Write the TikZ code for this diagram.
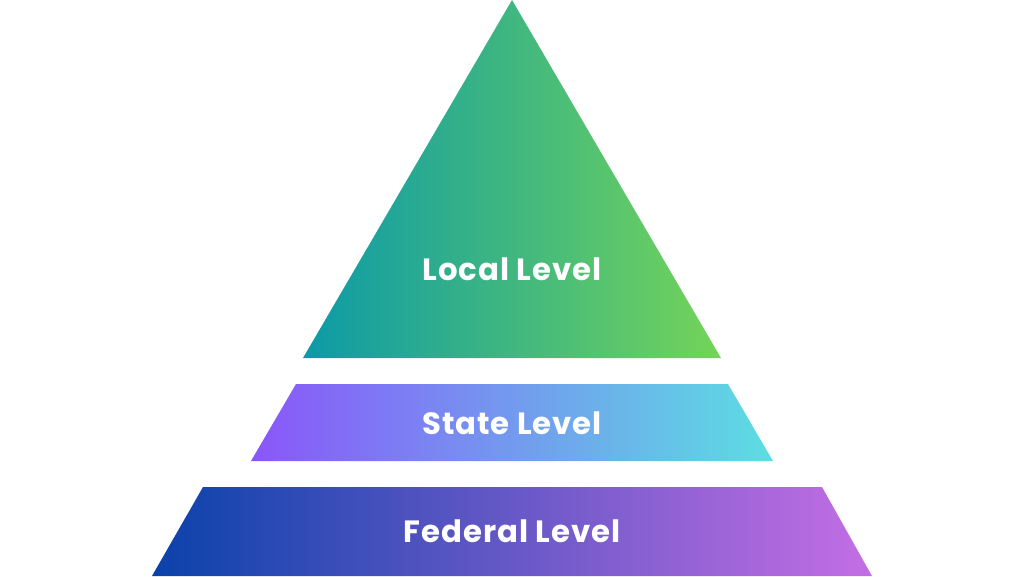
\documentclass[tikz,border=0pt]{standalone}
\usepackage{fontspec}
\setmainfont{Poppins}[LetterSpace=3]
\usetikzlibrary{positioning}

\definecolor{localLeft}{HTML}{0C9AA8}
\definecolor{localRight}{HTML}{74D458}
\definecolor{stateLeft}{HTML}{8A56FA}
\definecolor{stateRight}{HTML}{5CDEE2}
\definecolor{fedLeft}{HTML}{0A42AA}
\definecolor{fedRight}{HTML}{C46EE4}

\tikzset{
  levelText/.style={text=white, font=\bfseries\fontsize{17.5}{21}\selectfont}
}

\begin{document}
\begin{tikzpicture}[x=0.02cm, y=-0.02cm]
    % 画布大小
    \useasboundingbox (0,0) rectangle (1024,576);

    % 顶层三角形
    \shade[left color=localLeft, right color=localRight]
        (512,0) -- (721,358) -- (303,358) -- cycle;

    % 中间梯形
    \shade[left color=stateLeft, right color=stateRight]
        (296,384) -- (728,384) -- (773,461) -- (251,461) -- cycle;

    % 底层梯形
    \shade[left color=fedLeft, right color=fedRight]
        (203,487) -- (822,487) -- (872,576) -- (152,576) -- cycle;

    % 文字
    \node[levelText] (local) at (512,269) {Local Level};
    \node[levelText] (state) at (512,423) {State Level};
    \node[levelText] (federal) at (512,531) {Federal Level};

\end{tikzpicture}
\end{document}
